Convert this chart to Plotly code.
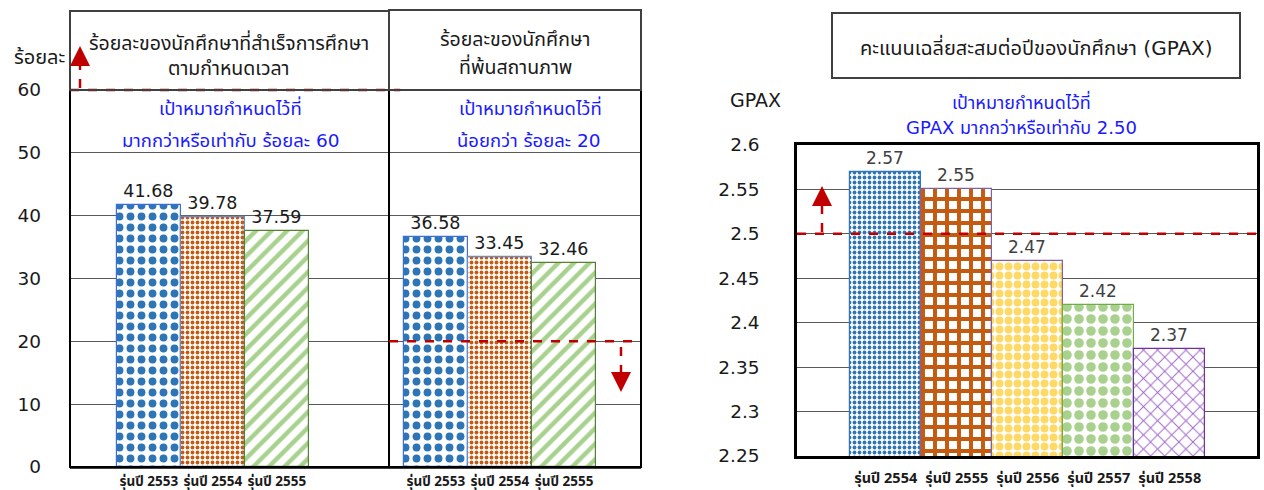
import plotly.graph_objects as go

W, H = 1264, 490

# ---- data -------------------------------------------------------------
grad_cohorts = ["รุ่นปี 2553", "รุ่นปี 2554", "รุ่นปี 2555"]
grad_on_time = [41.68, 39.78, 37.59]          # % graduating on time
drop_cohorts = ["รุ่นปี 2553", "รุ่นปี 2554", "รุ่นปี 2555"]
drop_out = [36.58, 33.45, 32.46]              # % leaving the programme
gpax_cohorts = ["รุ่นปี 2554", "รุ่นปี 2555", "รุ่นปี 2556", "รุ่นปี 2557", "รุ่นปี 2558"]
gpax = [2.57, 2.55, 2.47, 2.42, 2.37]         # cumulative GPAX per year
pct_ticks = [0, 10, 20, 30, 40, 50, 60]
gpax_ticks = [2.25, 2.3, 2.35, 2.4, 2.45, 2.5, 2.55, 2.6]
target_grad = 60
target_drop = 20
target_gpax = 2.5

FONT = "'DejaVu Sans', Tahoma, 'Noto Sans Thai', sans-serif"
CAT_FAMILY = "'Noto Sans', 'Noto Sans Thai', sans-serif"
RED = "#C00000"
BLUE_TXT = "#1A1AFF"


def px(x):
    return x / W


def py(y):
    return 1 - y / H


# ---- axis geometry ----------------------------------------------------
PCT_RANGE = [0, 60]
GPAX_RANGE = [2.25, 2.6]
xdom_grad = [px(70), px(389)]
xdom_drop = [px(389), px(641)]
ydom_pct = [py(467), py(90)]
xdom_gpax = [px(797), px(1257)]
ydom_gpax = [py(456), py(145)]

fig = go.Figure()

pct_marker = dict(
    color="white",
    line=dict(color=["#3D6BE0", "#5B8FD8", "#548235"], width=1.2),
    pattern=dict(shape=[".", ".", "/"],
                 fgcolor=["#2E75B6", "#C55A11", "#A9D18E"],
                 bgcolor="white", size=[11, 5, 11],
                 solidity=[0.4, 0.45, 0.4], fillmode="replace"),
)

# graduation-on-time bars
fig.add_trace(go.Bar(
    x=grad_cohorts, y=grad_on_time, xaxis="x", yaxis="y",
    width=1.0, marker=pct_marker,
    texttemplate="%{y:.2f}", textposition="outside",
    textfont=dict(size=17.5, color="#1a1a1a", family=FONT),
    cliponaxis=False, showlegend=False,
))

# drop-out bars
fig.add_trace(go.Bar(
    x=drop_cohorts, y=drop_out, xaxis="x3", yaxis="y",
    width=1.0, marker=pct_marker,
    texttemplate="%{y:.2f}", textposition="outside",
    textfont=dict(size=17.5, color="#1a1a1a", family=FONT),
    cliponaxis=False, showlegend=False,
))

# GPAX bars
fig.add_trace(go.Bar(
    x=gpax_cohorts, y=gpax, xaxis="x2", yaxis="y2",
    width=1.0,
    marker=dict(
        color="white",
        line=dict(color=["#2E75B6", "#8064A2", "#8064A2", "#70AD47", "#7030A0"], width=1.2),
        pattern=dict(shape=[".", "+", ".", ".", "x"],
                     fgcolor=["#2E75B6", "#C55A11", "#FFD966", "#A9D18E", "#9E66CC"],
                     bgcolor="white", size=[5, 12, 9, 12, 10],
                     solidity=[0.45, 0.55, 0.6, 0.5, 0.18], fillmode="replace"),
    ),
    texttemplate="%{y:.2f}", textposition="outside",
    textfont=dict(size=17, color="#404040", family=FONT),
    cliponaxis=False, showlegend=False,
))

grid = "#595959"
cat_font = dict(size=13.5, color="#1a1a1a", family=CAT_FAMILY, weight="bold")
gpax_cat_font = dict(size=14.5, color="#1a1a1a", family=CAT_FAMILY, weight="bold")
tick_font = dict(size=18.5, color="#1a1a1a", family=FONT)
fig.update_layout(
    width=W, height=H,
    margin=dict(l=0, r=0, t=0, b=0, autoexpand=False),
    paper_bgcolor="white", plot_bgcolor="white",
    bargap=0,
    font=dict(family=FONT, color="#1a1a1a"),
    xaxis=dict(domain=xdom_grad, range=[-1.23, 3.75], showgrid=False, automargin=False,
               tickfont=cat_font, ticks="", tickangle=0, ticklabelstandoff=1,
               showline=True, linecolor="#404040", linewidth=2),
    xaxis3=dict(domain=xdom_drop, range=[-0.73, 3.2], anchor="y", showgrid=False, automargin=False,
                tickfont=cat_font, ticks="", tickangle=0, ticklabelstandoff=1,
                showline=True, linecolor="#404040", linewidth=2),
    yaxis=dict(domain=ydom_pct, range=PCT_RANGE, tickvals=pct_ticks, automargin=False,
               showgrid=True, gridcolor=grid, gridwidth=1, zeroline=False,
               ticks="", ticklabelstandoff=28, tickfont=tick_font),
    xaxis2=dict(domain=xdom_gpax, range=[-1.25, 5.23], anchor="y2", showgrid=False, automargin=False,
                tickfont=gpax_cat_font, ticks="", tickangle=0, ticklabelstandoff=7,
                showline=True, mirror=True, linecolor="black", linewidth=2.5),
    yaxis2=dict(domain=ydom_gpax, range=GPAX_RANGE, tickvals=gpax_ticks, anchor="x2", automargin=False,
                showgrid=True, gridcolor=grid, gridwidth=1, zeroline=False,
                ticks="", ticklabelstandoff=31,
                showline=True, mirror=True, linecolor="black", linewidth=2.5,
                tickfont=tick_font),
)

shapes = []
# frames around the two percentage panels
for xr in ("x domain", "x3 domain"):
    shapes.append(dict(type="rect", xref=xr, yref="y domain", x0=0, x1=1, y0=0, y1=1,
                       line=dict(color="black", width=2)))


def dom_frac(v, rng):
    return (v - rng[0]) / (rng[1] - rng[0])


# target lines
shapes.append(dict(type="line", xref="x domain", yref="y domain",
                   x0=0, x1=1.035, y0=dom_frac(target_grad, PCT_RANGE), y1=dom_frac(target_grad, PCT_RANGE),
                   line=dict(color=RED, width=2.5, dash="dash")))
shapes.append(dict(type="line", xref="x3 domain", yref="y domain",
                   x0=0, x1=1, y0=dom_frac(target_drop, PCT_RANGE), y1=dom_frac(target_drop, PCT_RANGE),
                   line=dict(color=RED, width=2.5, dash="dash")))
shapes.append(dict(type="line", xref="x2 domain", yref="y2 domain",
                   x0=0, x1=1, y0=dom_frac(target_gpax, GPAX_RANGE), y1=dom_frac(target_gpax, GPAX_RANGE),
                   line=dict(color=RED, width=2.5, dash="dash")))

# dashed arrow shafts
for (x, y0, y1) in [(80, 88, 58), (621, 347, 378), (822, 232, 200)]:
    shapes.append(dict(type="line", xref="paper", yref="paper",
                       x0=px(x), x1=px(x), y0=py(y0), y1=py(y1),
                       line=dict(color=RED, width=2.5, dash="dash")))

# title boxes
for (x0, y0, x1, y1) in [(70, 11, 389, 90), (389, 10, 641, 90), (832, 13, 1240, 78)]:
    shapes.append(dict(type="rect", xref="paper", yref="paper",
                       x0=px(x0), x1=px(x1), y0=py(y1), y1=py(y0),
                       line=dict(color="#404040", width=2)))

fig.update_layout(shapes=shapes)

annotations = []


def label(text, x, y, size=19.5, color="#1a1a1a", **kw):
    annotations.append(dict(text=text, x=px(x), y=py(y), xref="paper", yref="paper",
                            showarrow=False, xanchor="center", yanchor="middle",
                            font=dict(size=size, color=color, family=FONT), **kw))


label("ร้อยละ", 39, 57, size=20)
label("GPAX", 755, 100, size=19)
label("ร้อยละของนักศึกษาที่สำเร็จการศึกษา", 229, 42)
label("ตามกำหนดเวลา", 229, 68)
label("ร้อยละของนักศึกษา", 515, 40)
label("ที่พ้นสถานภาพ", 515, 66)
label("คะแนนเฉลี่ยสะสมต่อปีของนักศึกษา (GPAX)", 1036, 47, size=20)
label("เป้าหมายกำหนดไว้ที่", 230, 108, size=18.5, color=BLUE_TXT)
label("มากกว่าหรือเท่ากับ ร้อยละ 60", 230, 140, size=18.5, color=BLUE_TXT)
label("เป้าหมายกำหนดไว้ที่", 530, 108, size=18.5, color=BLUE_TXT)
label("น้อยกว่า ร้อยละ 20", 528, 140, size=18.5, color=BLUE_TXT)
label("เป้าหมายกำหนดไว้ที่", 1021, 101, size=18, color=BLUE_TXT)
label("GPAX มากกว่าหรือเท่ากับ 2.50", 1021, 127, size=18, color=BLUE_TXT)

# arrow heads
for (x, tip, tail) in [(80, 46, 60), (621, 392, 378), (822, 186, 200)]:
    annotations.append(dict(x=px(x), y=py(tip), xref="paper", yref="paper",
                            ax=0, ay=tail - tip, axref="pixel", ayref="pixel",
                            text="", showarrow=True, arrowhead=2, arrowsize=1.6,
                            arrowwidth=2.5, arrowcolor=RED))

fig.update_layout(annotations=annotations)

fig.write_html("out.html")
